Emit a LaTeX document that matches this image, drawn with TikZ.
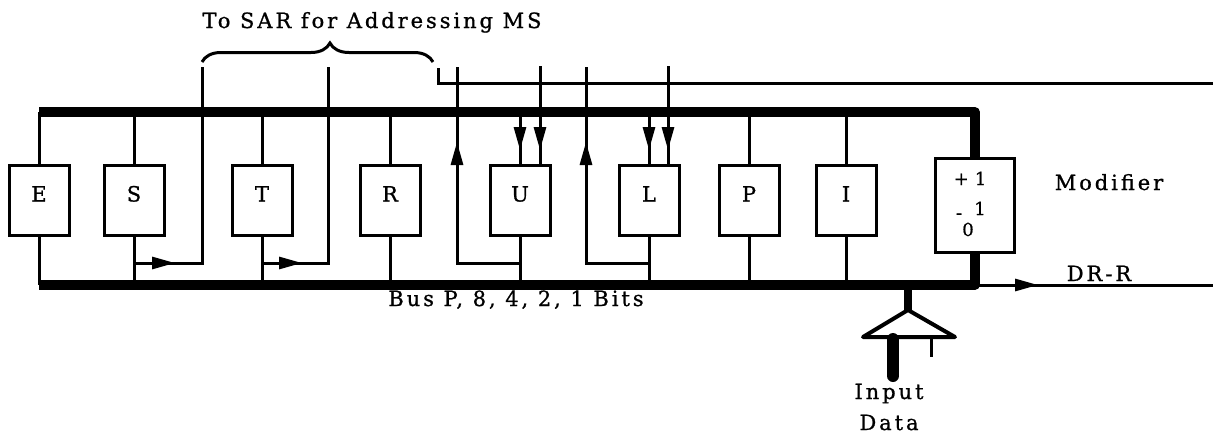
\documentclass[tikz,border=0pt]{standalone}
\usepackage{fontspec}
\setmainfont{DejaVu Serif}[FakeBold=0.9]
\newfontfamily\labfont{DejaVu Serif}[LetterSpace=14,FakeBold=0.9]
\usetikzlibrary{decorations.pathreplacing,decorations.markings,arrows.meta}
\begin{document}
\begin{tikzpicture}[x=1pt,y=-1pt, line width=3pt,
  box/.style={draw, line width=3pt, minimum width=60pt, minimum height=70pt, inner sep=0pt,
    font=\fontsize{21}{23}\selectfont, text height=15pt, text depth=12pt},
  modbox/.style={draw, line width=3pt, minimum width=79pt, minimum height=94pt, inner sep=0pt},
  bus/.style={line width=9.5pt, line join=round},
  lbl/.style={font=\labfont\fontsize{21}{24}\selectfont, inner sep=0pt, anchor=base},
  mlbl/.style={font=\fontsize{18}{20}\selectfont, inner sep=0pt, anchor=base},
  tip/.style={postaction={decorate}, decoration={markings,
    mark=at position #1 with {\arrow{Triangle[length=23pt,width=12pt]}}}},
]
\useasboundingbox (0,0) rectangle (1213,434);
% reference levels
\coordinate (tb) at (0,112);
\coordinate (bb) at (0,285);
\coordinate (tp) at (0,66);
\coordinate (fb) at (0,263);
% registers
\node[box] (E) at (39,200) {E};
\node[box] (S) at (134,200) {S};
\node[box] (T) at (262,200) {T};
\node[box] (R) at (390,200) {R};
\node[box] (U) at (520,200) {U};
\node[box] (L) at (649,200) {L};
\node[box] (P) at (749,200) {P};
\node[box] (I) at (846,200) {I};
\node[modbox] (M) at (975,205) {};
\node[mlbl] (m1) at (970,185) {+\,\,1};
\node[mlbl] (m2) at (959,219) {-};
\node[mlbl] (m3) at (980,215) {1};
\node[mlbl] (m4) at (968,236) {0};
% buses
\draw[bus] (E.north |- tb) -- (M.north |- tb) -- (M.north);
\draw[bus] (E.south |- bb) -- (M.south |- bb) -- (M.south);
% plain bus connections
\foreach \b in {E,S,T,R,P,I} {
  \draw (\b.north) -- (\b.north |- tb);
  \draw (\b.south) -- (\b.south |- bb);
}
\draw (U.south) -- (U.south |- bb);
\draw (L.south) -- (L.south |- bb);
% inputs into U and L
\coordinate (Uin) at ([xshift=20pt]U.north);
\coordinate (Lin) at ([xshift=19pt]L.north);
\draw[tip=38pt] (U.north |- tb) -- (U.north);
\draw[tip=84pt] (Uin |- tp) -- (Uin);
\draw[tip=38pt] (L.north |- tb) -- (L.north);
\draw[tip=84pt] (Lin |- tp) -- (Lin);
% feedback lines
\coordinate (sa) at (202,67);
\coordinate (ta) at (328,67);
\coordinate (ua) at (457,67);
\coordinate (la) at (586,67);
\draw[tip=41pt] (S.south |- fb) -| (sa);
\draw[tip=40pt] (T.south |- fb) -| (ta);
\draw[tip=184pt] (U.south |- fb) -| (ua);
\draw[tip=184pt] (L.south |- fb) -| (la);
% brace and SAR line
\coordinate (b1) at (202,62);
\coordinate (b2) at (433,62);
\draw[decorate, decoration={brace, amplitude=19pt, aspect=0.554}] (b1) -- (b2);
\coordinate (c1) at (438,68);
\coordinate (c2) at (1213,83);
\draw (c1) |- (c2);
% DR-R output
\coordinate (dr) at (1213,285);
\draw[tip=63pt] (M.south |- bb) -- (dr);
% input data
\coordinate (ia) at (908,310);
\draw[line width=8pt] (ia |- bb) -- (ia);
\draw[line width=4pt, line join=round, fill=white] (ia) -- (955,337) -- (863,337) -- cycle;
\draw[line width=12pt, line cap=round] (893,339) -- (893,376);
\draw (931,339) -- (931,357);
% labels
\node[lbl] (tosar) at (372,28) {To SAR for Addressing MS};
\node[lbl] (bus) at (516,306) {Bus P, 8, 4, 2, 1 Bits};
\node[lbl] (mod) at (1109,190) {Modifier};
\node[lbl] (drr) at (1099,281) {DR-R};
\node[lbl] (inp) at (889,399) {Input};
\node[lbl] (dat) at (889,430) {Data};
\end{tikzpicture}
\end{document}
